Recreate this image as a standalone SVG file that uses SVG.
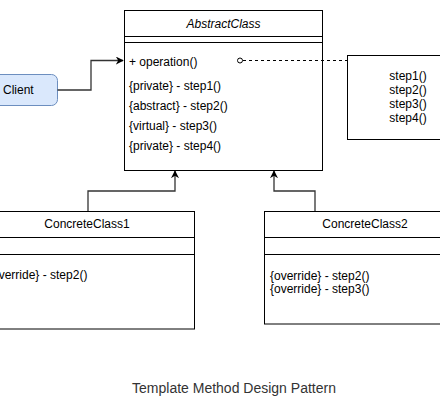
<svg xmlns="http://www.w3.org/2000/svg" width="440" height="420" viewBox="0 0 440 420">
<style>
text{font-family:"Liberation Sans",Arial,Helvetica,sans-serif;font-size:12px;fill:#000}
.box{fill:#fff;stroke:#000;stroke-width:1}
.sep{stroke:#000;stroke-width:1}
.conn{fill:none;stroke:#333;stroke-width:1.3}
.c{text-anchor:middle}
</style>
<defs>
<marker id="arr" viewBox="0 0 10 10" refX="9" refY="5" markerWidth="8" markerHeight="8" orient="auto" markerUnits="userSpaceOnUse">
<path d="M0,0 L10,5 L0,10 L3,5 Z" fill="#000"/>
</marker>
</defs>
<rect width="440" height="420" fill="#fff"/>
<g id="client">
<rect x="-15" y="74.5" width="72.5" height="31" rx="6" fill="#dae8fc" stroke="#6c8ebf"/>
<text x="3" y="94">Client</text>
</g>
<g id="abstractclass">
<rect class="box" x="124.5" y="10.5" width="198" height="160"/>
<line class="sep" x1="124.5" y1="36.5" x2="322.5" y2="36.5"/>
<line class="sep" x1="124.5" y1="42.5" x2="322.5" y2="42.5"/>
<text class="c" x="223.5" y="27.5" font-style="italic">AbstractClass</text>
<text x="129" y="66">+ operation()</text>
<text x="129" y="90">{private} - step1()</text>
<text x="129" y="110">{abstract} - step2()</text>
<text x="129" y="130">{virtual} - step3()</text>
<text x="129" y="150">{private} - step4()</text>
</g>
<g id="note">
<rect class="box" x="347.5" y="55.5" width="120" height="84"/>
<text class="c" x="408" y="80">step1()</text>
<text class="c" x="408" y="94">step2()</text>
<text class="c" x="408" y="108">step3()</text>
<text class="c" x="408" y="122">step4()</text>
</g>
<g id="concreteclass1">
<rect class="box" x="-21.5" y="211.5" width="216" height="117.5"/>
<line class="sep" x1="-21.5" y1="237.5" x2="194.5" y2="237.5"/>
<line class="sep" x1="-21.5" y1="254.5" x2="194.5" y2="254.5"/>
<text class="c" x="87" y="228">ConcreteClass1</text>
<text x="-12" y="279">{override} - step2()</text>
</g>
<g id="concreteclass2">
<rect class="box" x="264.5" y="211.5" width="200" height="112.5"/>
<line class="sep" x1="264.5" y1="237.5" x2="464.5" y2="237.5"/>
<line class="sep" x1="264.5" y1="254.5" x2="464.5" y2="254.5"/>
<text class="c" x="365" y="228">ConcreteClass2</text>
<text x="270" y="280">{override} - step2()</text>
<text x="270" y="292.5">{override} - step3()</text>
</g>
<g id="connectors">
<path class="conn" d="M57.5 90 H91 V60.5 H123" marker-end="url(#arr)"/>
<path class="conn" d="M88 211 V191 H175 V171" marker-end="url(#arr)"/>
<path class="conn" d="M315 211 V191 H274 V171" marker-end="url(#arr)"/>
<path d="M243 60.5 H347.5" fill="none" stroke="#000" stroke-dasharray="3 3"/>
<circle cx="240" cy="60.5" r="2.5" fill="#fff" stroke="#000"/>
</g>
<g id="caption">
<text class="c" x="234" y="393" style="font-size:14px;fill:#333">Template Method Design Pattern</text>
</g>
</svg>
